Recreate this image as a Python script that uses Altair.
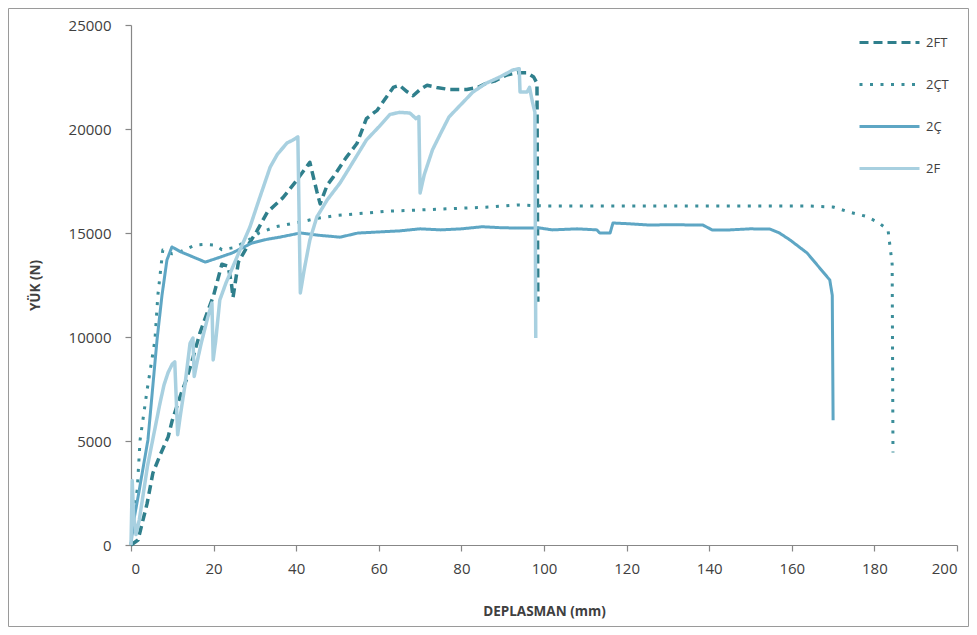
import altair as alt
import pandas as pd

series_order = ["2FT", "2ÇT", "2Ç", "2F"]
series_colors = ["#2f7f8c", "#3b8e9a", "#5ea6c4", "#a8d0e0"]
series_dash = [[9, 5], [3, 7.5], [1, 0], [1, 0]]

x_2FT = [0, 1.7, 3.9, 5.3, 7, 9, 10, 12, 13.5, 15, 16.7, 18.5, 20, 22, 23.5, 24.3, 24.7, 26, 28, 30.5,
         33, 36.8, 40, 43.3, 45, 45.8, 47.5, 49, 52, 54.7, 57, 59.6, 63.5, 65, 66.8, 68.3, 70, 71.7,
         74, 77, 81.3, 84, 86, 88, 91, 93.5, 95.9, 97.5, 98.3, 98.5]
y_2FT = [0, 240, 2000, 3460, 4300, 5200, 6000, 7200, 8000, 9000, 10200, 11200, 12000, 13500, 13400,
         12600, 11900, 13600, 14300, 15100, 16000, 16700, 17500, 18400, 17000, 16400, 17300, 17700,
         18600, 19300, 20500, 20900, 22000, 22100, 21800, 21600, 21900, 22100, 22000, 21900, 21900,
         22000, 22200, 22300, 22600, 22700, 22700, 22500, 22200, 11700]

x_2CT = [0, 0.5, 1.5, 2.2, 3.9, 5.8, 6.5, 7.7, 10, 12, 15.5, 18, 20.3, 22, 25, 28, 31, 35, 41, 45, 50,
         57, 62, 69, 75, 81, 87, 93.5, 100, 110, 120, 130, 140, 150, 160, 164, 170, 174, 178, 181,
         183.3, 184.3, 184.5]
y_2CT = [0, 1500, 2640, 5050, 7450, 9860, 12000, 14180, 14000, 14100, 14420, 14450, 14420, 14200,
         14300, 14600, 15000, 15300, 15530, 15700, 15850, 15960, 16050, 16100, 16150, 16200, 16250,
         16350, 16300, 16300, 16300, 16300, 16300, 16300, 16300, 16300, 16250, 16000, 15800, 15500,
         15150, 13500, 4450]

x_2C = [0, 0.5, 1.7, 4.1, 6.3, 7.5, 8.7, 9.9, 12, 15, 18, 21, 24.5, 29.3, 33, 36, 41, 45, 50.6, 55,
        60, 65, 70, 75, 80, 85, 90, 94, 99, 102, 108, 112.8, 113.5, 116, 116.7, 120, 125.7, 130,
        138.5, 140.7, 145, 150, 154.7, 157, 159.6, 163.7, 169.2, 169.8, 170]
y_2C = [0, 1000, 2300, 5050, 9860, 12000, 13700, 14330, 14100, 13850, 13600, 13800, 14040, 14520,
        14700, 14800, 15000, 14900, 14800, 15000, 15050, 15100, 15200, 15150, 15200, 15300, 15250,
        15240, 15240, 15150, 15200, 15150, 15000, 15000, 15480, 15450, 15380, 15400, 15380, 15150,
        15150, 15200, 15190, 15000, 14660, 14040, 12740, 12000, 6000]

x_2F = [0, 0.3, 0.6, 1.2, 2, 3, 4, 5, 6, 7, 8, 9, 10, 10.6, 11.3, 12, 13, 14.3, 15, 15.3, 16, 17,
        18.6, 19.6, 19.9, 20.5, 21.5, 23, 24.5, 26, 28.8, 31, 33.7, 35.5, 37.8, 39, 40.4, 41, 42,
        43.3, 45, 47.5, 50.6, 53, 57, 60, 62.7, 65, 67.5, 69, 69.7, 70, 71, 73, 75, 77, 80, 82.8,
        86, 89.3, 92.5, 94, 94.2, 95.9, 96.5, 97.2, 97.8, 98]
y_2F = [0, 3100, 1500, 500, 1200, 2500, 3800, 4800, 5800, 6800, 7700, 8300, 8700, 8800, 5300, 6300,
        7600, 9700, 9950, 8100, 8800, 9700, 10960, 11630, 8900, 9800, 11780, 12600, 13300, 14000,
        15290, 16600, 18170, 18800, 19330, 19450, 19620, 12120, 13300, 14660, 15770, 16590, 17400,
        18170, 19470, 20100, 20700, 20800, 20770, 20500, 20600, 16920, 17800, 19000, 19800, 20580,
        21200, 21780, 22200, 22500, 22840, 22900, 21780, 21780, 22000, 21300, 20800, 9950]

x_ticks = [0, 20, 40, 60, 80, 100, 120, 140, 160, 180, 200]
y_ticks = [0, 5000, 10000, 15000, 20000, 25000]

raw = {"2FT": (x_2FT, y_2FT), "2ÇT": (x_2CT, y_2CT), "2Ç": (x_2C, y_2C), "2F": (x_2F, y_2F)}
frames = []
for name in series_order:
    xs, ys = raw[name]
    frames.append(pd.DataFrame({"series": name, "x": xs, "y": ys, "i": range(len(xs))}))
df = pd.concat(frames, ignore_index=True)

FONT = "Open Sans"
W, H = 826, 520


def make_legend():
    return alt.Legend(title=None, orient="none", legendX=727, legendY=-14,
                      symbolType="stroke", symbolSize=3600, symbolStrokeWidth=3,
                      labelFontSize=13, labelFont=FONT, labelColor="#404040",
                      labelOffset=5, rowPadding=3)


color = alt.Color("series:N", scale=alt.Scale(domain=series_order, range=series_colors),
                  legend=make_legend())
dash = alt.StrokeDash("series:N", scale=alt.Scale(domain=series_order, range=series_dash),
                      legend=make_legend())

xenc = alt.X("x:Q", scale=alt.Scale(domain=[0, 200], nice=False),
             axis=alt.Axis(values=x_ticks, title="DEPLASMAN (mm)", grid=False,
                           titleX=413, titleY=66, titleBaseline="middle",
                           labelPadding=10, tickSize=6))
yenc = alt.Y("y:Q", scale=alt.Scale(domain=[0, 25000], nice=False),
             axis=alt.Axis(values=y_ticks, title="YÜK (N)", grid=False, format="d",
                           titleX=-96, titleY=260, titleAngle=-90, titleBaseline="middle",
                           titleAlign="center", labelPadding=14, tickSize=6))

widths = {"2FT": 3.5, "2ÇT": 3, "2Ç": 3, "2F": 3.5}
layers = []
for name in series_order:
    layers.append(
        alt.Chart(df).transform_filter(alt.datum.series == name)
        .mark_line(strokeWidth=widths[name], strokeJoin="round")
        .encode(x=xenc, y=yenc, color=color, strokeDash=dash, order="i:Q")
    )

frame = alt.Chart(pd.DataFrame({"a": [0]})).mark_rect(
    fill=None, stroke="#9a9a9a", strokeWidth=1, clip=False
).encode(x=alt.value(-122.5), x2=alt.value(837.5), y=alt.value(-16.5), y2=alt.value(601.5))

chart = alt.layer(frame, *layers).properties(
    width=W, height=H,
    autosize=alt.AutoSizeParams(type="none"),
    padding={"left": 123, "top": 17, "right": 12, "bottom": 82},
).configure_view(stroke=None).configure_axis(
    labelFont=FONT, titleFont=FONT, labelFontSize=15, titleFontSize=13.5, titleFontWeight="bold",
    labelColor="#404040", titleColor="#404040", domainColor="#878787", tickColor="#878787",
    domainWidth=1.2, tickWidth=1.2
)

chart.save("out.html", embed_options={"renderer": "svg", "actions": False})
